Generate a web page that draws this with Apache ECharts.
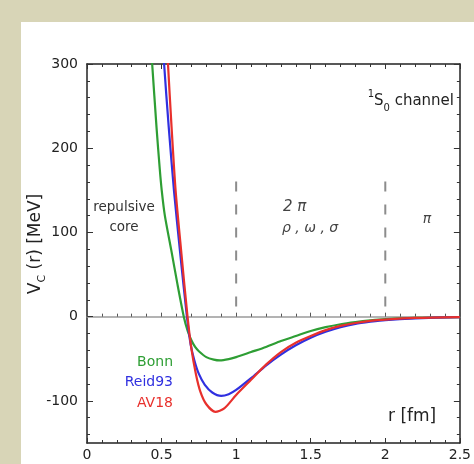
<!DOCTYPE html>
<html>
<head>
<meta charset="utf-8">
<script src="https://cdn.jsdelivr.net/npm/echarts@6/dist/echarts.min.js"></script>
<style>
html, body { margin: 0; padding: 0; background: #fff; }
#chart { width: 474px; height: 464px; }
</style>
</head>
<body>
<div id="chart"></div>
<script>
// r [fm] and V_C(r) [MeV] for each potential
const bonnR = [0.42, 0.437, 0.466, 0.488, 0.501, 0.522, 0.565, 0.607, 0.649, 0.675, 0.70, 0.725, 0.75, 0.80, 0.85, 0.89, 0.95, 1.0, 1.1, 1.2, 1.3, 1.4, 1.5, 1.6, 1.7, 1.8, 1.9, 2.0, 2.2, 2.5];
const bonnV = [340, 300, 225, 175, 150, 120, 79, 38, 0, -17, -28, -36, -41, -48, -51, -52, -50.5, -48, -42, -36, -29, -23, -17, -12.5, -9, -6.5, -4.5, -3, -1.5, -0.5];

const reidR = [0.505, 0.517, 0.548, 0.583, 0.625, 0.67, 0.695, 0.72, 0.75, 0.79, 0.84, 0.9, 0.95, 1.0, 1.1, 1.2, 1.3, 1.4, 1.5, 1.6, 1.7, 1.8, 1.9, 2.0, 2.2, 2.5];
const reidV = [340, 300, 225, 150, 75, 0, -33, -52, -68, -81, -90, -94, -92, -87, -73, -58, -45, -34, -25, -18, -12.5, -8.5, -6, -4, -2, -0.5];

const av18R = [0.53, 0.543, 0.567, 0.594, 0.633, 0.674, 0.70, 0.73, 0.76, 0.80, 0.86, 0.92, 1.0, 1.1, 1.2, 1.3, 1.4, 1.5, 1.6, 1.7, 1.8, 1.9, 2.0, 2.2, 2.5];
const av18V = [345, 300, 225, 150, 75, 0, -38, -68, -89, -104, -113, -109, -93, -75, -57, -42, -31, -23, -16, -11, -7.5, -5, -3.5, -1.5, -0.5];

// dashed region dividers (r) and their vertical extent (MeV)
const dividerR = [1, 2];
const dividerSpan = [12, 172];

// tick labels
const yLabels = [-100, 0, 100, 200, 300];
const yMinor = [-140, -120, -100, -80, -60, -40, -20, 0, 20, 40, 60, 80, 100, 120, 140, 160, 180, 200, 220, 240, 260, 280, 300];

const FONT = 'DejaVu Sans';
const GREEN = '#2e9e34';
const BLUE = '#3030e0';
const RED = '#e8302c';

function zip(xs, ys) {
  return xs.map((x, i) => [x, ys[i]]);
}

const chart = echarts.init(document.getElementById('chart'));

const xBase = {
  type: 'value', min: 0, max: 2.5, interval: 0.5,
  splitLine: { show: false },
  axisLine: { onZero: false, lineStyle: { color: '#222', width: 1.5 } },
  axisTick: { inside: true, length: 5, lineStyle: { color: '#333' } },
  minorTick: { show: true, splitNumber: 5, length: 3, lineStyle: { color: '#333' } }
};

const yBase = {
  type: 'value', min: -150, max: 300,
  splitLine: { show: false },
  axisLine: { onZero: false, lineStyle: { color: '#222', width: 1.5 } }
};

function curve(name, rs, vs, color) {
  return {
    name: name, type: 'line', data: zip(rs, vs),
    smooth: 0.25, showSymbol: false,
    lineStyle: { color: color, width: 2.2 }
  };
}

const option = {
  backgroundColor: '#fff',
  animation: false,
  grid: { left: 87, right: 10, top: 64, bottom: 21 },
  xAxis: [
    Object.assign({}, xBase, {
      position: 'bottom',
      axisLabel: { margin: 5, fontSize: 14, color: '#222', fontFamily: FONT }
    }),
    Object.assign({}, xBase, { position: 'top', axisLabel: { show: false } }),
    // zero line
    Object.assign({}, xBase, {
      position: 'bottom',
      axisLine: { onZero: true, onZeroAxisIndex: 0, lineStyle: { color: '#9a9a9a', width: 1.5 } },
      axisTick: { inside: true, length: 4, lineStyle: { color: '#555' } },
      minorTick: { show: true, splitNumber: 5, length: 3, lineStyle: { color: '#555' } },
      axisLabel: { show: false }
    })
  ],
  yAxis: [
    Object.assign({}, yBase, {
      position: 'left',
      axisLabel: { customValues: yLabels, margin: 9, fontSize: 14, color: '#222', fontFamily: FONT },
      axisTick: { customValues: yLabels, inside: true, length: 6, lineStyle: { color: '#333' } }
    }),
    Object.assign({}, yBase, {
      position: 'left',
      axisLine: { show: false, onZero: false },
      axisLabel: { show: false },
      axisTick: { customValues: yMinor, inside: true, length: 3, lineStyle: { color: '#333' } }
    }),
    Object.assign({}, yBase, {
      position: 'right',
      axisLabel: { show: false },
      axisTick: { customValues: yLabels, inside: true, length: 6, lineStyle: { color: '#333' } }
    }),
    Object.assign({}, yBase, {
      position: 'right',
      axisLine: { show: false, onZero: false },
      axisLabel: { show: false },
      axisTick: { customValues: yMinor, inside: true, length: 3, lineStyle: { color: '#333' } }
    })
  ],
  series: [
    ...dividerR.map(r => ({
      type: 'line',
      data: dividerSpan.map(v => [r, v]),
      showSymbol: false,
      lineStyle: { color: '#8c8c8c', width: 2, type: [10, 13] },
      silent: true
    })),
    curve('Bonn', bonnR, bonnV, GREEN),
    curve('Reid93', reidR, reidV, BLUE),
    curve('AV18', av18R, av18V, RED)
  ],
  graphic: [
    { type: 'rect', z: -10, shape: { x: 0, y: 0, width: 21, height: 464 }, style: { fill: '#d8d5b7' } },
    { type: 'rect', z: -10, shape: { x: 0, y: 0, width: 474, height: 22 }, style: { fill: '#d8d5b7' } },
    {
      type: 'text', x: 454, y: 101,
      style: {
        text: '{s|1}{b|S}{d|0}{b| channel}', align: 'right', verticalAlign: 'middle',
        rich: {
          b: { fontSize: 15, lineHeight: 24, fontFamily: FONT, fill: '#222' },
          s: { fontSize: 10, lineHeight: 10, verticalAlign: 'top', fontFamily: FONT, fill: '#222' },
          d: { fontSize: 10, lineHeight: 10, verticalAlign: 'bottom', fontFamily: FONT, fill: '#222' }
        }
      }
    },
    {
      type: 'text', x: 36, y: 244, rotation: Math.PI / 2,
      style: {
        text: '{b|V}{d|C}{b| (r) [MeV]}', align: 'center', verticalAlign: 'middle',
        rich: {
          b: { fontSize: 17, lineHeight: 24, fontFamily: FONT, fill: '#222' },
          d: { fontSize: 11, lineHeight: 11, verticalAlign: 'bottom', fontFamily: FONT, fill: '#222' }
        }
      }
    },
    {
      type: 'text', x: 124, y: 217,
      style: { text: 'repulsive\ncore', align: 'center', verticalAlign: 'middle', lineHeight: 20,
        fontSize: 13.5, fontFamily: FONT, fill: '#333' }
    },
    {
      type: 'text', x: 283, y: 207,
      style: { text: '2 π', align: 'left', verticalAlign: 'middle', fontSize: 15, fontStyle: 'italic',
        fontFamily: FONT, fill: '#444' }
    },
    {
      type: 'text', x: 282, y: 228,
      style: { text: 'ρ , ω , σ', align: 'left', verticalAlign: 'middle', fontSize: 14, fontStyle: 'italic',
        fontFamily: FONT, fill: '#444' }
    },
    {
      type: 'text', x: 427, y: 219,
      style: { text: 'π', align: 'center', verticalAlign: 'middle', fontSize: 14, fontStyle: 'italic',
        fontFamily: FONT, fill: '#444' }
    },
    {
      type: 'text', x: 388, y: 417,
      style: { text: 'r [fm]', align: 'left', verticalAlign: 'middle', fontSize: 17, fontFamily: FONT, fill: '#222' }
    },
    {
      type: 'text', x: 173, y: 362,
      style: { text: 'Bonn', align: 'right', verticalAlign: 'middle', fontSize: 14, fontFamily: FONT, fill: GREEN }
    },
    {
      type: 'text', x: 173, y: 382,
      style: { text: 'Reid93', align: 'right', verticalAlign: 'middle', fontSize: 14, fontFamily: FONT, fill: BLUE }
    },
    {
      type: 'text', x: 173, y: 403,
      style: { text: 'AV18', align: 'right', verticalAlign: 'middle', fontSize: 14, fontFamily: FONT, fill: RED }
    }
  ]
};

chart.setOption(option);
</script>
</body>
</html>
